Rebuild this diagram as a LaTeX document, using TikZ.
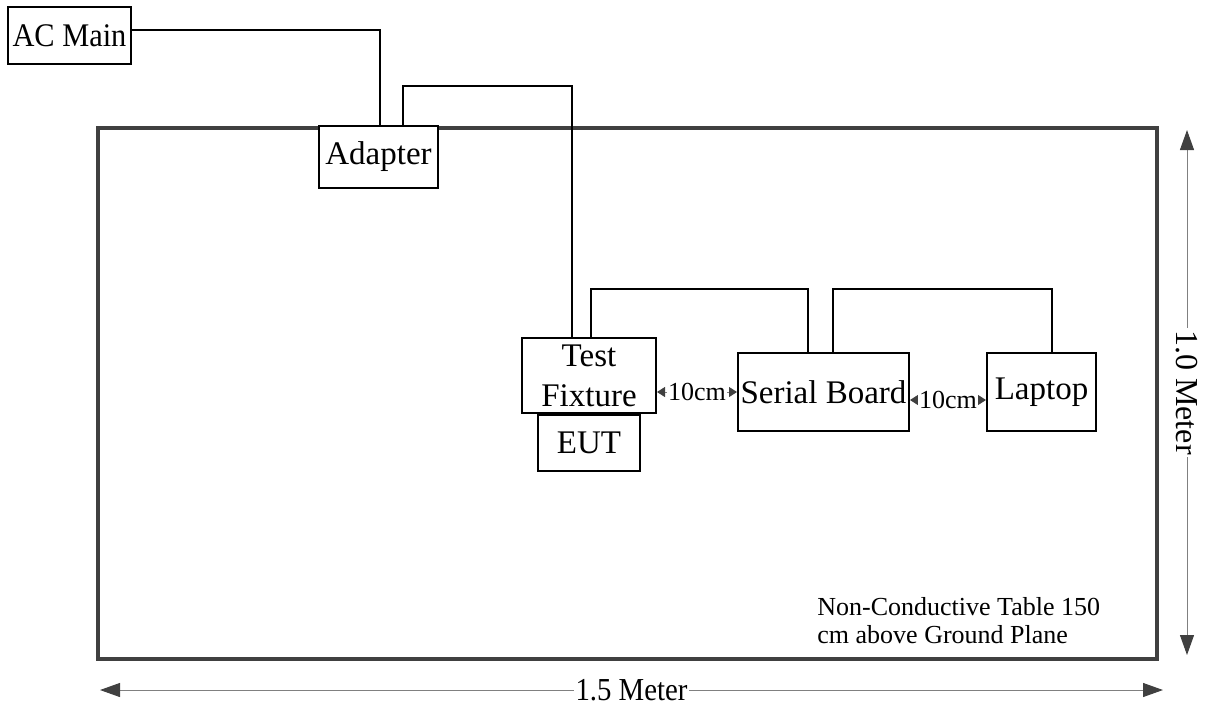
\documentclass[tikz,border=0pt]{standalone}
\usepackage{fontspec}
\setmainfont{Liberation Serif}
\usetikzlibrary{arrows.meta,positioning}
\definecolor{tablegray}{RGB}{64,64,64}
\tikzstyle{block} = [rectangle, draw, line width=1pt, fill=white,
    align=center, inner sep=0pt, font=\fontsize{16.5}{20}\selectfont]
\tikzstyle{wire} = [draw, line width=0.9pt]
\tikzstyle{tableedge} = [draw=tablegray, line width=1.6pt]
\tikzstyle{dim} = [draw=gray, line width=0.5pt,
    {Triangle[length=10pt,width=7pt,color=tablegray]}-{Triangle[length=10pt,width=7pt,color=tablegray]}]
\tikzstyle{gap} = [draw=gray, line width=0.5pt,
    {Triangle[length=4pt,width=5pt,color=tablegray]}-{Triangle[length=4pt,width=5pt,color=tablegray]}]
\tikzstyle{dimlabel} = [fill=white, inner sep=1pt, font=\fontsize{16}{18}\selectfont]
\tikzstyle{gaplabel} = [fill=white, inner sep=0.5pt, font=\fontsize{13}{15}\selectfont]
\tikzstyle{note} = [align=left, inner sep=0pt, font=\fontsize{13}{14}\selectfont]

\begin{document}
\begin{tikzpicture}[x=0.5pt, y=-0.5pt]
    \useasboundingbox (0,0) rectangle (1207,709);
    % table outline
    \draw [tableedge] (98,128) rectangle (1157,659);

    % Place nodes
    \node [block, minimum width=61.5pt, minimum height=28.5pt] (acmain) at (69.5,35.5) {\scalebox{0.92}[1]{AC Main}};
    \node [block, minimum width=59.5pt, minimum height=31pt] (adapter) at (378.5,157) {Adapter};
    \node [block, minimum width=67pt, minimum height=37.5pt] (fixture) at (589,375.5) {Test\\Fixture};
    \node [block, below=0pt of fixture, minimum width=51pt, minimum height=28pt] (eut) {EUT};
    \node [block, minimum width=85.5pt, minimum height=39pt] (serial) at (823.5,392) {Serial Board};
    \node [block, minimum width=54.5pt, minimum height=39pt] (laptop) at (1041.5,392) {Laptop};
    \node [note, anchor=west] (tablenote) at (817,621) {Non-Conductive Table 150\\cm above Ground Plane};

    % dimension ends
    \coordinate (htop) at (1187,130);
    \coordinate (hbot) at (1187,655);
    \coordinate (wleft) at (100,690);
    \coordinate (wright) at (1163,690);

    % Draw wires
    \path [wire] ([yshift=2.75pt]acmain.east) -| ([xshift=0.75pt]adapter.north);
    \path [wire] ([xshift=12.25pt]adapter.north) -- ++(0,-39) -| ([xshift=-8.5pt]fixture.north);
    \path [wire] ([xshift=1pt]fixture.north) -- ++(0,-48) -| ([xshift=-7.75pt]serial.north);
    \path [wire] ([xshift=4.75pt]serial.north) -- ++(0,-63) -| ([xshift=5.25pt]laptop.north);

    % Distances
    \path [gap] (fixture.east |- serial.west) -- node [gaplabel] {10cm} (serial.west);
    \path [gap] ([yshift=-4pt]serial.east) -- node [gaplabel] {10cm} ([yshift=-4pt]laptop.west);
    \path [dim] (htop) -- node [dimlabel, rotate=-90] {1.0 Meter} (hbot);
    \path [dim] (wleft) -- node [dimlabel] {\scalebox{0.9}[1]{1.5 Meter}} (wright);

\end{tikzpicture}
\end{document}
